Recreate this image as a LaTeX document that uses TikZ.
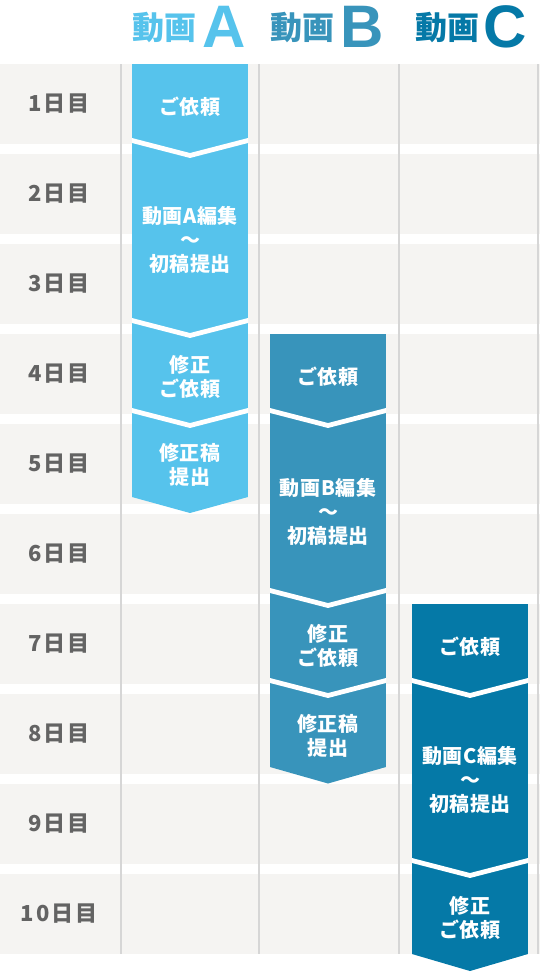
\documentclass[tikz,border=0pt]{standalone}
\usepackage{fontspec}
\newfontfamily\jp{Noto Sans CJK JP}
\newfontfamily\jpbox[LetterSpace=3]{Noto Sans CJK JP}
\newfontfamily\jplab[LetterSpace=8]{Noto Sans CJK JP}
\newfontfamily\lat{Liberation Sans}
\definecolor{colA}{HTML}{56C3EC}
\definecolor{colB}{HTML}{3894BB}
\definecolor{colC}{HTML}{0579A7}
\definecolor{rowgray}{HTML}{F5F4F2}
\definecolor{vlinec}{HTML}{D6D6D6}
\definecolor{labgray}{HTML}{636363}
\begin{document}
\begin{tikzpicture}[x=1pt,y=-1pt,
  rowlabel/.style={font=\jplab\bfseries\fontsize{22}{22}\selectfont, text=labgray, inner sep=0},
  boxtext/.style={font=\jpbox\bfseries\fontsize{20}{24}\selectfont, text=white, align=center, inner sep=0},
  hdrjp/.style={font=\jp\bfseries\fontsize{32}{32}\selectfont, inner sep=0},
  hdrlat/.style={font=\lat\bfseries\fontsize{60}{60}\selectfont, inner sep=0, anchor=base},
  sepline/.style={draw=white, line width=4.8},
  gridline/.style={draw=vlinec, line width=2}]
\useasboundingbox (0,0) rectangle (540,972);
\fill[white] (0,0) rectangle (540,972);
% rows
\foreach \i in {0,...,9} \fill[rowgray] (0,{64+90*\i}) rectangle (540,{144+90*\i});
\foreach \x in {121,259,399,538} \draw[gridline] (\x,64) -- (\x,954);
% column A
\begin{scope}
\path[clip] (132,64) -- (248,64) -- (248,497) -- (190,513) -- (132,497) -- cycle;
\fill[colA] (132,64) -- (248,64) -- (248,497) -- (190,513) -- (132,497) -- cycle;
\foreach \r in {144,324,414} \draw[sepline] (126,{\r-5.05}) -- (190,{\r+11.5}) -- (254,{\r-5.05});
\end{scope}
% column B
\begin{scope}
\path[clip] (270,334) -- (386,334) -- (386,767) -- (328,783.5) -- (270,767) -- cycle;
\fill[colB] (270,334) -- (386,334) -- (386,767) -- (328,783.5) -- (270,767) -- cycle;
\foreach \r in {414,594,684} \draw[sepline] (264,{\r-5.05}) -- (328,{\r+11.5}) -- (392,{\r-5.05});
\end{scope}
% column C
\begin{scope}
\path[clip] (412,604) -- (528,604) -- (528,954) -- (470,971) -- (412,954) -- cycle;
\fill[colC] (412,604) -- (528,604) -- (528,954) -- (470,971) -- (412,954) -- cycle;
\foreach \r in {684,864} \draw[sepline] (406,{\r-5.05}) -- (470,{\r+11.5}) -- (534,{\r-5.05});
\end{scope}
% headers
\node[hdrjp, text=colA] (hA) at (164.3,27.5) {動画};
\node[hdrlat, text=colA] (lA) at (224,47.5) {A};
\node[hdrjp, text=colB] (hB) at (302.5,27.5) {動画};
\node[hdrlat, text=colB] (lB) at (362.5,47.5) {B};
\node[hdrjp, text=colC] (hC) at (447,27.5) {動画};
\node[hdrlat, text=colC] (lC) at (505.5,47.5) {C};
% row labels
\foreach \i in {1,...,10} \node[rowlabel] (d\i) at (59,{14+90*\i}) {\i 日目};
% box texts
\node[boxtext] (a1) at (190,107) {ご依頼};
\node[boxtext] (a2) at (190,240) {動画A編集\\〜\\初稿提出};
\node[boxtext] (a3) at (190,376.5) {修正\\ご依頼};
\node[boxtext] (a4) at (190,465) {修正稿\\提出};
\node[boxtext] (b1) at (328,377) {ご依頼};
\node[boxtext] (b2) at (328,511.5) {動画B編集\\〜\\初稿提出};
\node[boxtext] (b3) at (328,646) {修正\\ご依頼};
\node[boxtext] (b4) at (328,736) {修正稿\\提出};
\node[boxtext] (c1) at (470,647) {ご依頼};
\node[boxtext] (c2) at (470,780) {動画C編集\\〜\\初稿提出};
\node[boxtext] (c3) at (470,918) {修正\\ご依頼};
\end{tikzpicture}
\end{document}
